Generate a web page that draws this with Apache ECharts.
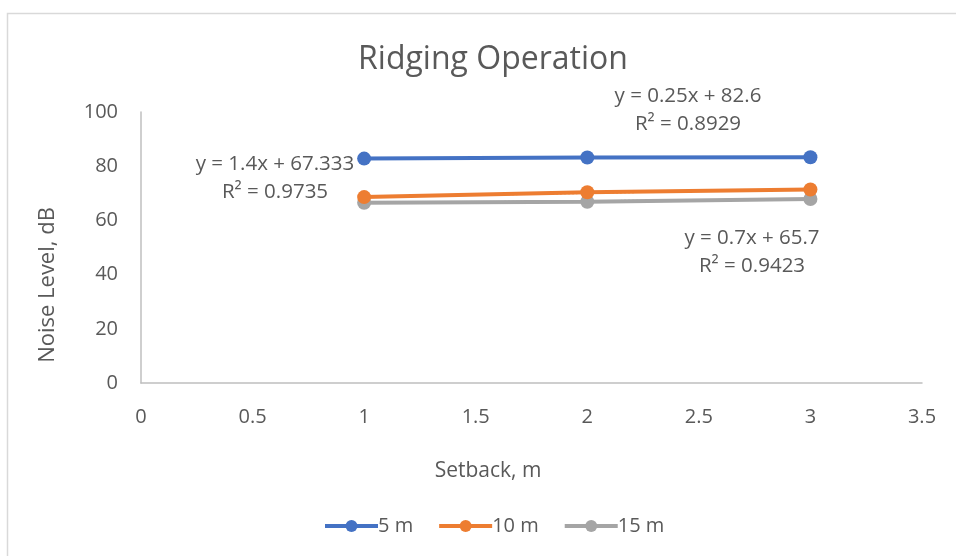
<!DOCTYPE html>
<html>
<head>
<meta charset="utf-8">
<script src="https://cdn.jsdelivr.net/npm/echarts@6/dist/echarts.min.js"></script>
<style>
  html, body { margin: 0; padding: 0; background: #fff; }
  #chart { width: 956px; height: 556px; }
</style>
</head>
<body>
<div id="chart"></div>
<script>
// Measured noise levels at each setback distance
const setbacks = [1, 2, 3];
const seriesNames = ['5 m', '10 m', '15 m'];
const noise5m = [82.8, 83.2, 83.3];
const noise10m = [68.6, 70.4, 71.4];
const noise15m = [66.5, 66.9, 67.9];

// Linear trendline fits (slope, intercept) and their labels
const trendSlopes = [0.25, 1.4, 0.7];
const trendIntercepts = [82.6, 67.333, 65.7];
const trendLabels = [
  ['y = 0.25x + 82.6', 'R² = 0.8929'],
  ['y = 1.4x + 67.333', 'R² = 0.9735'],
  ['y = 0.7x + 65.7', 'R² = 0.9423']
];

const colors = ['#4472C4', '#ED7D31', '#A5A5A5'];
const values = [noise5m, noise10m, noise15m];
const FONT = '"Open Sans", Lato, sans-serif';
const TEXT = '#595959';

const chart = echarts.init(document.getElementById('chart'), null, { renderer: 'canvas' });

const dataSeries = values.map((vals, i) => ({
  name: seriesNames[i],
  type: 'line',
  data: setbacks.map((x, j) => [x, vals[j]]),
  symbol: 'circle',
  symbolSize: 14,
  color: colors[i],
  lineStyle: { width: 4, color: colors[i] },
  itemStyle: { color: colors[i] },
  z: 3 + (2 - i)
}));

const trendSeries = values.map((vals, i) => {
  const x0 = setbacks[0], x1 = setbacks[setbacks.length - 1];
  return {
    name: seriesNames[i] + ' trend',
    type: 'line',
    data: [[x0, trendSlopes[i] * x0 + trendIntercepts[i]], [x1, trendSlopes[i] * x1 + trendIntercepts[i]]],
    symbol: 'none',
    lineStyle: { width: 2, type: [2, 2], color: colors[i] },
    silent: true,
    z: 2
  };
});

// Equation label placement (pixel centres)
const labelPos = [[688, 96], [275, 164], [752, 238]];
const labelGraphics = [];
trendLabels.forEach((lines, i) => {
  lines.forEach((t, k) => {
    labelGraphics.push({
      type: 'text',
      x: labelPos[i][0],
      y: labelPos[i][1] + k * 28,
      style: { text: t, font: '20.5px ' + FONT, fill: TEXT, align: 'center', verticalAlign: 'middle' },
      z: 10
    });
  });
});

chart.setOption({
  animation: false,
  backgroundColor: '#fff',
  title: {
    text: 'Ridging Operation',
    left: 488,
    top: 39,
    textAlign: 'center',
    textStyle: { fontFamily: FONT, fontSize: 32, fontWeight: 'normal', color: TEXT }
  },
  legend: {
    data: seriesNames,
    left: 318,
    top: 511,
    itemWidth: 53,
    itemHeight: 15,
    itemGap: 24,
    lineStyle: { width: 4 },
    textStyle: { fontFamily: FONT, fontSize: 20, color: TEXT, padding: [0, 0, 0, -5] }
  },
  grid: { left: 141, right: 34, top: 112, bottom: 173, containLabel: false },
  xAxis: {
    type: 'value',
    min: 0,
    max: 3.5,
    interval: 0.5,
    axisLine: { show: true, lineStyle: { color: '#BFBFBF', width: 1.5 } },
    axisTick: { show: false },
    splitLine: { show: false },
    axisLabel: { fontFamily: FONT, fontSize: 20, color: TEXT, margin: 24, showMaxLabel: true, showMinLabel: true }
  },
  yAxis: {
    type: 'value',
    min: 0,
    max: 100,
    interval: 20,
    axisLine: { show: true, lineStyle: { color: '#BFBFBF', width: 1.5 } },
    axisTick: { show: false },
    splitLine: { show: false },
    axisLabel: { fontFamily: FONT, fontSize: 20, color: TEXT, margin: 23 }
  },
  graphic: [
    {
      type: 'rect',
      shape: { x: 7.5, y: 13.5, width: 1000, height: 1000 },
      style: { fill: 'none', stroke: '#D9D9D9', lineWidth: 1.5 },
      silent: true,
      z: -1
    },
    {
      type: 'text',
      x: 488,
      y: 471,
      style: { text: 'Setback, m', font: '21px ' + FONT, fill: TEXT, align: 'center', verticalAlign: 'middle' }
    },
    {
      type: 'text',
      x: 48,
      y: 285,
      rotation: Math.PI / 2,
      style: { text: 'Noise Level, dB', font: '22px ' + FONT, fill: TEXT, align: 'center', verticalAlign: 'middle' }
    }
  ].concat(labelGraphics),
  series: trendSeries.concat(dataSeries)
});
</script>
</body>
</html>
